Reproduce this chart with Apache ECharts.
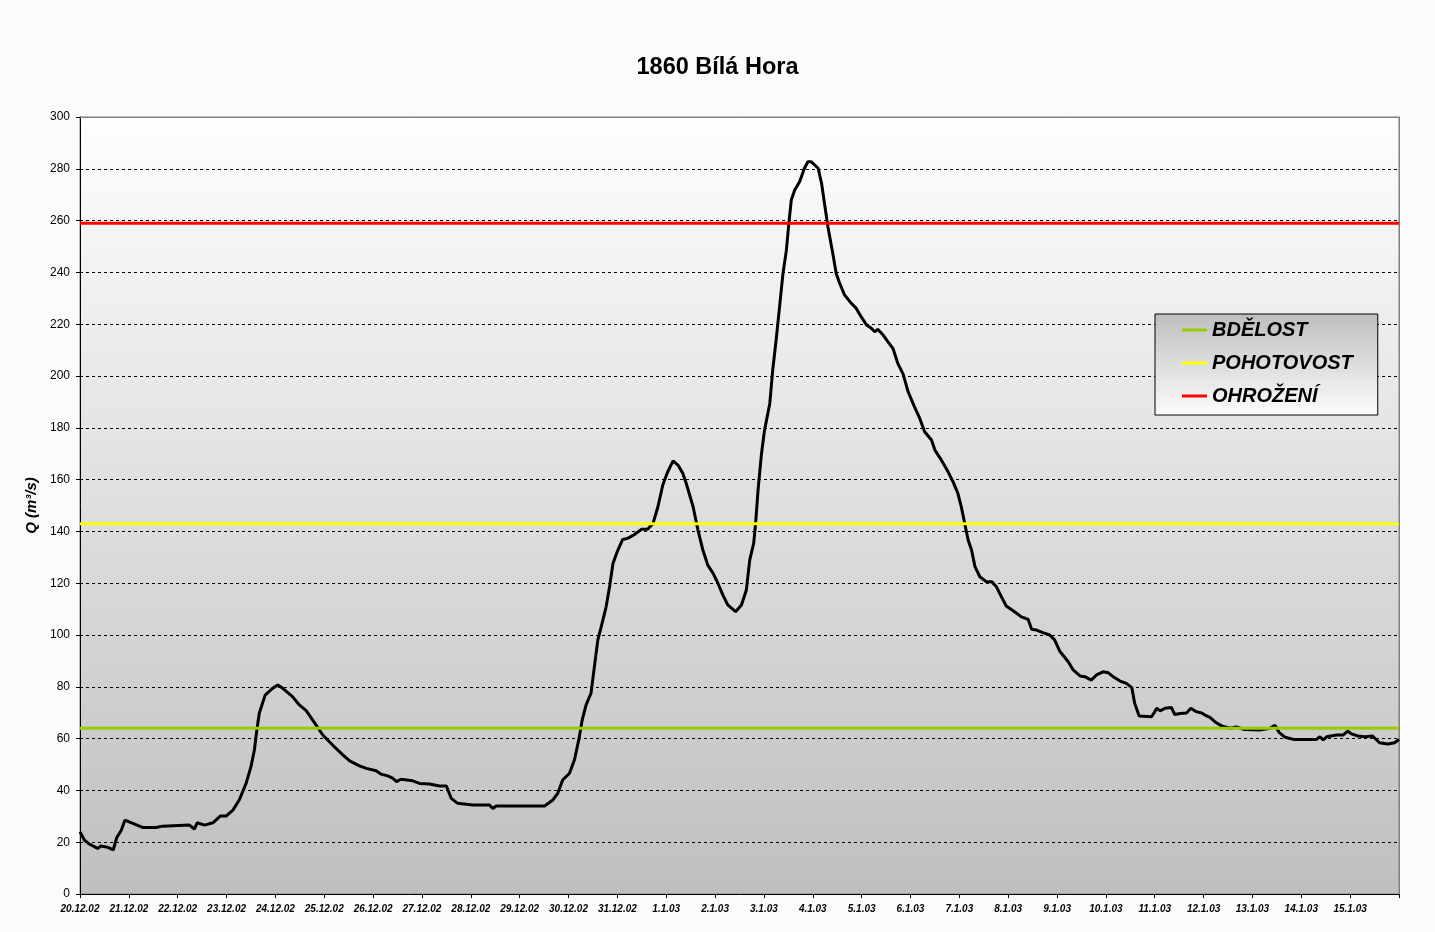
<!DOCTYPE html>
<html>
<head>
<meta charset="utf-8">
<script src="https://cdn.jsdelivr.net/npm/echarts@6/dist/echarts.min.js"></script>
<style>
html,body{margin:0;padding:0;background:#fbfbfb;}
#chart{width:1435px;height:932px;}
</style>
</head>
<body>
<div id="chart"></div>
<script>
// Day labels for x-axis ticks (day 0 = 20.12.02 00:00)
const dateLabels = ['20.12.02','21.12.02','22.12.02','23.12.02','24.12.02','25.12.02','26.12.02','27.12.02','28.12.02','29.12.02','30.12.02','31.12.02','1.1.03','2.1.03','3.1.03','4.1.03','5.1.03','6.1.03','7.1.03','8.1.03','9.1.03','10.1.03','11.1.03','12.1.03','13.1.03','14.1.03','15.1.03',''];

// Time in days since 20.12.02 00:00
const dayOffsets = [
0.00,0.09,0.19,0.36,0.43,0.57,0.68,0.75,0.84,0.92,1.08,1.28,1.56,1.69,2.24,2.34,2.40,2.55,2.72,2.87,2.99,3.13,3.26,3.40,3.50,3.57,3.62,3.67,3.79,3.94,4.05,4.15,4.35,4.49,4.63,4.76,4.97,5.17,5.38,5.52,5.72,5.86,6.06,6.16,6.30,6.40,6.48,6.57,6.81,6.95,7.15,7.36,7.50,7.60,7.73,8.04,8.38,8.45,8.52,9.51,
9.68,9.78,9.88,10.02,10.12,10.21,10.28,10.36,10.46,10.53,10.60,10.67,10.77,10.84,10.91,11.01,11.11,11.21,11.35,11.49,11.62,11.73,11.83,11.93,12.03,12.14,12.24,12.34,12.41,12.55,12.65,12.75,12.85,12.96,13.06,13.16,13.26,13.42,13.54,13.64,13.71,13.79,13.83,13.88,13.95,14.01,14.12,14.18,14.25,14.32,14.39,14.46,14.51,14.56,14.63,14.73,14.83,14.90,14.97,15.11,15.18,15.24,15.31,15.41,15.48,15.55,15.65,15.76,15.89,15.99,16.10,16.20,16.27,16.33,16.44,16.54,16.64,16.74,16.85,16.95,17.08,17.19,17.29,17.43,17.50,17.63,17.77,17.87,17.97,18.04,18.11,18.18,18.25,18.32,18.42,18.55,18.66,18.76,18.86,18.96,19.13,19.27,19.41,19.48,19.58,19.71,19.85,19.95,20.06,20.23,20.33,20.47,20.57,20.70,20.81,20.94,21.05,21.15,21.29,21.42,21.53,21.59,21.68,21.93,21.98,22.04,22.11,22.21,22.34,22.41,22.52,22.65,22.74,22.85,22.96,23.03,23.13,23.26,23.37,23.54,23.67,23.84,24.15,24.36,24.46,24.55,24.67,24.84,25.31,25.38,25.45,25.52,25.72,25.86,25.95,26.03,26.16,26.30,26.46,26.60,26.77,26.91,27.00
];

// Discharge Q (m3/s)
const flowValues = [
24.0,20.8,19.3,17.6,18.5,18.0,17.0,21.7,24.4,28.5,27.3,25.7,25.7,26.2,26.6,25.1,27.5,26.6,27.5,30.1,30.1,32.4,36.3,42.7,49.2,55.6,63.3,69.8,76.8,79.4,80.7,79.4,76.2,73.0,70.8,67.2,61.4,57.5,53.7,51.4,49.5,48.5,47.6,46.3,45.6,44.7,43.4,44.3,43.7,42.7,42.5,41.7,41.7,36.9,35.0,34.4,34.4,33.0,34.0,34.0,
36.3,38.9,44.0,46.6,51.7,59.5,67.2,73.0,77.5,87.8,98.1,103.2,110.9,118.6,127.6,132.8,136.9,137.3,138.8,140.8,140.8,143.1,149.5,157.9,163.0,167.2,165.6,162.4,158.5,149.5,140.5,132.8,127.0,123.8,119.9,115.4,111.6,109.0,111.6,117.4,129.0,135.4,143.1,156.0,170.0,178.8,189.4,202.3,213.9,226.7,239.6,248.6,258.9,267.9,271.8,275.0,280.2,282.7,282.7,280.2,274.4,266.6,257.6,247.3,239.6,235.8,231.3,228.7,226.1,222.9,219.7,218.4,217.1,218.0,215.8,213.2,210.7,204.9,200.7,194.0,188.2,183.6,178.5,175.3,171.4,167.6,163.0,159.2,154.7,149.5,143.1,136.7,132.8,126.4,122.5,120.6,120.6,118.6,114.8,111.2,109.0,107.0,106.0,102.2,101.9,100.9,100.0,98.1,93.6,89.7,86.5,84.2,83.9,82.6,84.6,85.8,85.4,83.9,82.2,81.3,79.7,73.6,68.7,68.4,69.7,71.7,70.7,71.7,72.0,69.3,69.7,69.9,71.7,70.4,69.9,69.1,68.2,66.1,64.9,64.0,64.5,63.5,63.3,64.0,65.1,62.3,60.5,59.7,59.7,60.7,59.5,60.7,61.4,61.4,62.9,61.8,61.0,60.7,61.0,58.4,57.9,58.4,59.7
];

// Flood alert levels
const thresholdNames = ['BDĚLOST','POHOTOVOST','OHROŽENÍ'];
const thresholdValues = [64, 143, 259];
const thresholdColors = ['#99cc00','#ffff00','#ff0000'];

const xMin = 0, xMax = 27;
const yMin = 0, yMax = 300, yStep = 20;

const font = 'Arial, "Liberation Sans", sans-serif';
const chart = echarts.init(document.getElementById('chart'));

const series = [{
  name: 'Q',
  type: 'line',
  data: dayOffsets.map((d, i) => [d, flowValues[i]]),
  showSymbol: false,
  symbol: 'none',
  lineStyle: {color: '#000', width: 3},
  itemStyle: {color: '#000'},
  animation: false,
  z: 3
}];
thresholdNames.forEach((n, i) => {
  series.push({
    name: n,
    type: 'line',
    data: [[xMin, thresholdValues[i]], [xMax, thresholdValues[i]]],
    showSymbol: false,
    symbol: 'none',
    lineStyle: {color: thresholdColors[i], width: 3},
    itemStyle: {color: thresholdColors[i]},
    animation: false,
    z: 4
  });
});

chart.setOption({
  backgroundColor: '#fbfbfb',
  animation: false,
  title: {
    text: '1860 Bílá Hora',
    left: 'center',
    top: 51,
    textStyle: {fontFamily: font, fontWeight: 'bold', fontSize: 23.5, color: '#000'}
  },
  legend: {
    data: thresholdNames,
    orient: 'vertical',
    left: 1155,
    top: 314,
    padding: [5, 25, 8, 27],
    itemGap: 11,
    itemWidth: 25,
    itemHeight: 3,
    icon: 'rect',
    borderColor: '#000',
    borderWidth: 1,
    backgroundColor: new echarts.graphic.LinearGradient(0, 0, 0, 1, [
      {offset: 0, color: '#bebebe'}, {offset: 1, color: '#fcfcfc'}
    ]),
    textStyle: {fontFamily: font, fontSize: 20, fontWeight: 'bold', fontStyle: 'italic', color: '#000', lineHeight: 22},
    selectedMode: false
  },
  grid: {
    left: 80, right: 36, top: 117, bottom: 38,
    show: true,
    borderColor: '#808080',
    borderWidth: 1,
    backgroundColor: new echarts.graphic.LinearGradient(0, 0, 0, 1, [
      {offset: 0, color: '#fefefe'}, {offset: 1, color: '#bfbfbf'}
    ]),
    outerBoundsMode: 'none'
  },
  xAxis: [{
    type: 'value',
    min: xMin, max: xMax, interval: 1,
    axisLine: {show: true, lineStyle: {color: '#000', width: 1}},
    axisTick: {show: true, length: 4, lineStyle: {color: '#000'}},
    splitLine: {show: false},
    axisLabel: {
      margin: 10,
      fontFamily: font, fontSize: 10, fontWeight: 'bold', fontStyle: 'italic', color: '#000',
      showMinLabel: true, showMaxLabel: true, hideOverlap: false,
      formatter: v => dateLabels[Math.round(v)] || ''
    }
  }, {
    type: 'value', position: 'top',
    min: xMin, max: xMax, interval: 1,
    axisLine: {show: true, onZero: false, lineStyle: {color: '#808080', width: 1}},
    axisTick: {show: false}, axisLabel: {show: false}, splitLine: {show: false}
  }],
  yAxis: [{
    type: 'value',
    min: yMin, max: yMax, interval: yStep,
    name: 'Q (m³/s)',
    nameLocation: 'middle',
    nameGap: 41,
    nameRotate: 90,
    nameTextStyle: {fontFamily: font, fontSize: 15, fontWeight: 'bold', fontStyle: 'italic', color: '#000'},
    axisLine: {show: true, lineStyle: {color: '#000', width: 1}},
    axisTick: {show: true, length: 4, lineStyle: {color: '#000'}},
    splitLine: {show: true, lineStyle: {color: '#000', width: 1, type: [3, 3]}},
    axisLabel: {margin: 10, fontFamily: font, fontSize: 12, color: '#000'}
  }, {
    type: 'value', position: 'right',
    min: yMin, max: yMax, interval: yStep,
    axisLine: {show: true, onZero: false, lineStyle: {color: '#808080', width: 1}},
    axisTick: {show: false}, axisLabel: {show: false}, splitLine: {show: false}
  }],
  series: series
});
</script>
</body>
</html>
